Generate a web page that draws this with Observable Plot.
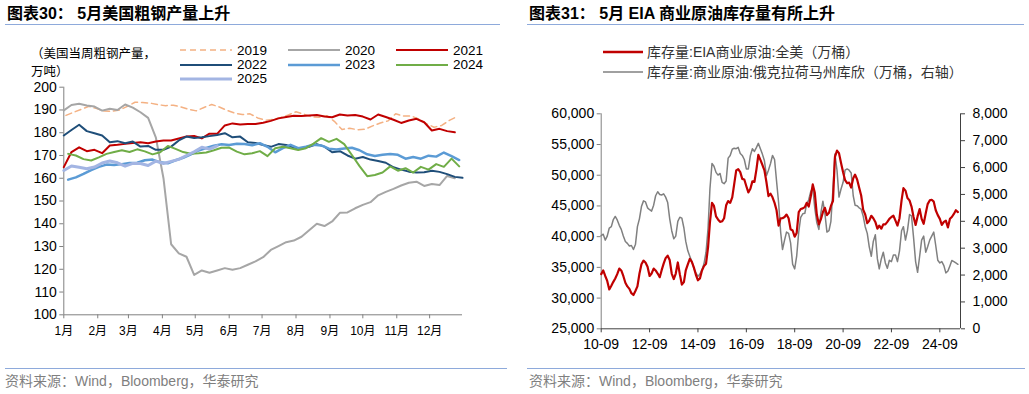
<!DOCTYPE html>
<html><head><meta charset="utf-8">
<script src="https://cdn.jsdelivr.net/npm/d3@7"></script>
<script src="https://cdn.jsdelivr.net/npm/@observablehq/plot@0.6"></script>
<style>
html,body{margin:0;padding:0;background:#fff}
body{width:1029px;height:394px;position:relative;overflow:hidden;font-family:"Liberation Sans",Arial,"Noto Sans CJK SC",sans-serif;color:#000}
.a{position:absolute;white-space:nowrap}
.title{top:5px;font-size:16px;line-height:18px;font-weight:bold;letter-spacing:0px;font-family:"Liberation Sans",Arial,"Noto Sans CJK SC",sans-serif}
.rule{position:absolute;height:0;border-top:1.5px solid #8EAADB}
.src{top:373px;font-size:14px;line-height:16px;color:#7f7f7f}
.cjk{font-family:"Liberation Sans",Arial,"Noto Sans CJK SC",sans-serif}
.plot{position:absolute}
</style></head><body>
<div class="a title" style="left:7px">图表30： 5月美国粗钢产量上升</div>
<div class="a title" style="left:529px">图表31： 5月 EIA 商业原油库存量有所上升</div>
<div class="rule" style="left:5px;top:24px;width:495px"></div>
<div class="rule" style="left:527px;top:24px;width:497px"></div>
<div class="rule" style="left:5px;top:368px;width:502px"></div>
<div class="rule" style="left:527px;top:368px;width:498px"></div>
<div class="a src" style="left:5px">资料来源：Wind，Bloomberg，华泰研究</div>
<div class="a src" style="left:529px">资料来源：Wind，Bloomberg，华泰研究</div>
<div class="a cjk" style="left:31px;top:47px;font-size:12.5px;line-height:14px">（美国当周粗钢产量，</div>
<div class="a cjk" style="left:31px;top:65px;font-size:12.5px;line-height:14px">万吨）</div>
<div id="leftLegend"></div>
<div id="rightLegend"></div>
<div id="leftPlot" class="plot" style="left:0px;top:80px"></div>
<div id="rightPlot" class="plot" style="left:520px;top:95px"></div>
<script>
// ---------- Left chart data: US weekly crude steel output (万吨) ----------
const years = ["2019","2020","2021","2022","2023","2024","2025"];
const firstDay = [2, 0, 0, 0, 4, 4, 0]; // day-of-year of first weekly reading
const steel2019 = [187.6,189,190.3,191.6,190.6,189.5,189.4,190,191.6,193.4,193.3,193,192.3,191.9,192.1,191.3,190.3,189.6,191.1,192.4,191.3,189.8,188.6,188,188.3,186.5,185.5,185.8,186.7,187.8,189.2,188.2,187,186.8,187.5,185,181.4,182,181.3,181.5,183,184.3,185.2,188.3,187.3,187.4,186,184,182.4,183.2,185.4,187.1];
const steel2020 = [189.8,192.2,192.7,192,191.5,189.7,190.5,190,192.4,191,189,186.5,178,160,131,127,125.5,117.5,119.5,118.5,119.5,120.5,119.8,120.5,122,123.5,125.3,128.5,130.2,131.9,132.6,134.3,137.2,140,139,141,144.8,145,146.8,148.3,149.5,152.5,154,155.3,156.8,158,158.5,156.6,157.5,157,161,160];
const steel2021 = [164.9,171.5,173.6,171.9,172.5,171,174.4,174.7,175.1,175.5,175.8,175.4,176.1,176.6,176.6,177.5,178.3,178.6,177.5,179.6,179.5,183.2,184.1,183.6,183.8,183.8,184.4,185.2,186.3,186.9,187.5,187.4,187.6,187.8,187.1,186.8,188,187.6,187.8,187.1,185.8,188,186.9,185.7,184.3,185.4,186.1,184.6,181,181.7,180.7,180.2];
const steel2022 = [178.8,181.2,183.5,180.7,179.8,178.8,175.8,176.3,175.4,176.1,173.9,174.2,172.5,172.5,173.9,176.6,178.3,177.7,178,178.5,179,179.8,178,178.3,175.8,175.5,174.6,173.8,175,174.6,173.5,173,173.8,175,173.9,171.4,171.9,170,168.6,169.3,168.2,167.6,166.8,164.8,163.8,162.9,162.5,162.6,163.3,162.8,161.8,160.6,160.2];
const steel2023 = [159.4,160.4,161.9,163.6,165,166,165.8,166.2,166.7,166.8,167.9,168.2,167,166.6,167.9,169,170.5,172.2,173.3,174.3,174.9,174.6,175.2,175,174.5,175.4,173.8,171.4,173.2,174.7,173.2,173.8,174.7,174.4,173,172.6,173.1,173.4,172.3,170.5,169.8,170.3,170.7,170.3,168.6,169.3,168.6,169.9,169.5,171.3,169.7,168];
const steel2024 = [170.7,170,168.4,167.8,169.2,170.7,171.5,172.3,171.5,172.7,171.8,170.5,171.4,174.2,172.9,171.5,170.8,171,171.3,172.3,173.4,173.5,171.7,170.5,171,171.9,169.7,173.2,173.8,173.2,172.4,173.2,175.2,177.6,176,177.3,175,170.2,165.3,160.9,161.4,162.5,165.2,163.3,164.4,162.5,165,163.8,166.2,165,168.6,165.2];
const steel2025 = [163.4,165.4,164.8,164.2,164.9,166.7,167.6,166.8,165.3,166.5,166.5,165.6,167.5,166.5,167.4,168.3,170,171.6,173.6,172.8,174.2];
const steelSeries = [steel2019, steel2020, steel2021, steel2022, steel2023, steel2024, steel2025];
const monthStartDays = [0,31,59,90,120,151,181,212,243,273,304,334];
const monthLabels = ["1月","2月","3月","4月","5月","6月","7月","8月","9月","10月","11月","12月"];
const steelTicks = [100,110,120,130,140,150,160,170,180,190,200];

// ---------- Right chart data: EIA crude inventories (万桶), monthly from 2010-09 ----------
const crudeFirstMonth = [2010, 9];
const usCrude = [33900,34500,33600,32800,31400,32000,32600,33200,33900,34800,34500,33600,32500,31900,31500,30800,30500,31200,31900,34000,35500,36100,35800,35100,33600,34000,34800,34500,34000,33400,34500,35600,36500,36900,36200,34000,33100,34000,35800,33900,32200,32600,34500,35500,36400,
35900,35000,33800,32900,33200,34500,35200,35600,38300,42300,45500,45000,43300,42800,42400,42500,43000,45100,45800,45500,46400,48500,50800,51000,50500,49400,49300,48200,47200,47800,49000,48900,51000,53300,52500,51700,50800,48900,46600,47000,46400,45500,44300,41800,
43000,43000,43200,43600,43000,41200,41000,40000,40600,44000,44500,44600,44800,45500,44900,46500,48500,47200,43600,42000,42800,44000,44700,43500,43900,45000,45800,53000,54000,53600,52000,50500,49200,48700,48800,48000,49500,50100,49300,48000,46700,44400,43600,42200,42600,
43400,43000,42400,41300,41800,41300,42000,42000,42400,42900,43200,43400,42600,41800,43000,45900,47900,47500,46300,45900,44900,43200,41900,43300,44500,42900,42100,43800,45300,45900,46000,45700,44300,43500,42900,41900,42400,42600,41500,42900,43200,43700,44300,44000];
const cushing = [3470,3520,3300,3450,3750,3800,4050,4180,4050,3850,3700,3450,3250,3180,3080,3100,2950,3150,3800,4100,4550,4760,4720,4500,4430,4380,4600,4950,5100,5000,4980,5020,4900,4700,4100,3650,3350,3450,4000,4150,4120,3750,3250,2900,2700,
2500,2250,2080,1950,2040,2200,2420,2850,3750,5200,6150,6050,5820,5720,5780,5450,5400,5500,6350,6450,6680,6720,6700,6750,6520,6450,6300,5950,5950,6450,6700,6600,6750,6900,6700,6500,6250,5700,5900,6150,6450,6300,5500,4700,
3600,2950,3300,3600,3550,3200,2400,2230,2700,3600,4150,4280,4300,4650,4800,5100,5250,4500,3950,3700,4300,4750,4300,3600,3650,4000,5200,6500,5900,4900,5200,5450,5900,5950,5900,5800,4950,4600,4580,4500,4450,4200,3800,3550,3050,
2700,3250,3500,2600,2230,2600,2850,2450,2250,2550,2500,2750,2750,2500,2900,3650,3800,3300,3650,4250,4200,3400,2500,2100,2700,3300,3450,2850,3050,3300,3450,3600,3100,2550,2450,2500,2350,2080,2150,2350,2540,2500,2450,2400];
const leftAxisTicks = [25000,30000,35000,40000,45000,50000,55000,60000];
const rightAxisTicks = [0,1000,2000,3000,4000,5000,6000,7000,8000];
const xTickYears = [2010,2012,2014,2016,2018,2020,2022,2024];

// ---------- styles ----------
const yearColors = ["#F4B183","#A6A6A6","#C00000","#1F4E79","#5B9BD5","#70AD47","#A3B5E3"];
const yearWidths = [1.5,2,2,2,2.5,2,3];
const yearDash = ["6,4",null,null,null,null,null,null];
const font = "'Liberation Sans', Arial, 'Noto Sans CJK SC', sans-serif";

// ---------- Left chart ----------
const steelRows = [];
steelSeries.forEach((vals, k) => vals.forEach((v, i) => steelRows.push({year: years[k], day: firstDay[k] + 7 * i, v})));

const leftPlot = Plot.plot({
  width: 510, height: 270,
  marginLeft: 63.3, marginRight: 48, marginTop: 6.7, marginBottom: 35.7,
  style: {background: "transparent", fontFamily: font, color: "#000", overflow: "visible"},
  x: {domain: [0, 364]},
  y: {domain: [100, 200]},
  marks: [
    Plot.axisY({ticks: steelTicks, tickSize: 4, tickPadding: 3, fontSize: 14, label: null, stroke: "#808080", fill: "#000"}),
    Plot.axisX({ticks: monthStartDays, tickFormat: d => monthLabels[monthStartDays.indexOf(d)], tickSize: 4, tickPadding: 8, fontSize: 12, label: null, stroke: "#808080", fill: "#000"}),
    Plot.ruleX([0], {stroke: "#808080"}),
    Plot.ruleY([100], {stroke: "#808080"}),
    ...years.map((y, k) => Plot.line(steelRows.filter(r => r.year === y), {
      x: "day", y: "v", stroke: yearColors[k], strokeWidth: yearWidths[k], strokeDasharray: yearDash[k] || undefined
    }))
  ]
});
document.getElementById("leftPlot").appendChild(leftPlot);

// left legend
const legPos = [[0,0],[0,1],[0,2],[1,0],[1,1],[1,2],[2,0]];
const rowY = [50.2, 64.5, 78.8];
const colX = [180, 288, 396];
const ll = document.getElementById("leftLegend");
years.forEach((y, k) => {
  const [r, c] = legPos[k];
  const sw = document.createElementNS("http://www.w3.org/2000/svg", "svg");
  sw.setAttribute("width", 54); sw.setAttribute("height", 8);
  sw.style.position = "absolute"; sw.style.left = colX[c] + "px"; sw.style.top = (rowY[r] - 4) + "px";
  const ln = document.createElementNS("http://www.w3.org/2000/svg", "line");
  ln.setAttribute("x1", 0); ln.setAttribute("x2", 52); ln.setAttribute("y1", 4); ln.setAttribute("y2", 4);
  ln.setAttribute("stroke", yearColors[k]); ln.setAttribute("stroke-width", yearWidths[k]);
  if (yearDash[k]) ln.setAttribute("stroke-dasharray", yearDash[k]);
  sw.appendChild(ln); ll.appendChild(sw);
  const t = document.createElement("div");
  t.className = "a"; t.textContent = y;
  t.style.left = (colX[c] + 57) + "px"; t.style.top = (rowY[r] - 6.5) + "px";
  t.style.fontSize = "13.5px"; t.style.lineHeight = "13px";
  ll.appendChild(t);
});

// ---------- Right chart ----------
const monthDate = i => new Date(Date.UTC(crudeFirstMonth[0], crudeFirstMonth[1] - 1 + i, 1));
const usRows = usCrude.map((v, i) => ({date: monthDate(i), v}));
const cushingRows = cushing.map((v, i) => ({date: monthDate(i), v}));
const toLeft = v => 25000 + v * 35000 / 8000;
const toRight = v => (v - 25000) * 8000 / 35000;
const t0 = new Date(Date.UTC(2010, 8, 1)), t1 = new Date(Date.UTC(2025, 6, 10));
const fmt = d3.format(",");

const rightPlot = Plot.plot({
  width: 509, height: 270,
  marginLeft: 80.7, marginRight: 69, marginTop: 18.3, marginBottom: 36.7,
  style: {background: "transparent", fontFamily: font, color: "#000", overflow: "visible"},
  x: {type: "utc", domain: [t0, t1]},
  y: {domain: [25000, 60000]},
  marks: [
    Plot.axisY({ticks: leftAxisTicks, tickFormat: fmt, anchor: "left", tickSize: 4, tickPadding: 3, fontSize: 14, label: null, stroke: "#808080", fill: "#000"}),
    Plot.axisY({ticks: rightAxisTicks.map(toLeft), tickFormat: d => fmt(Math.round(toRight(d))), anchor: "right", tickSize: 4, tickPadding: 8, fontSize: 14, label: null, stroke: "#404040", fill: "#000"}),
    Plot.axisX({ticks: xTickYears.map(y => new Date(Date.UTC(y, 8, 1))), tickFormat: d3.utcFormat("%y-%m"), tickSize: 4, tickPadding: 6, fontSize: 14, label: null, stroke: "#404040", fill: "#000"}),
    Plot.ruleX([t0], {stroke: "#808080"}),
    Plot.ruleX([t1], {stroke: "#404040"}),
    Plot.ruleY([25000], {stroke: "#404040"}),
    Plot.line(cushingRows, {x: "date", y: d => toLeft(d.v), stroke: "#808080", strokeWidth: 1.5}),
    Plot.line(usRows, {x: "date", y: "v", stroke: "#C00000", strokeWidth: 2.2})
  ]
});
document.getElementById("rightPlot").appendChild(rightPlot);

// right legend
const rightLegend = [
  {label: "库存量:EIA商业原油:全美（万桶）", color: "#C00000", w: 2.5, y: 51.7},
  {label: "库存量:商业原油:俄克拉荷马州库欣（万桶，右轴）", color: "#808080", w: 1.5, y: 71.7}
];
const rl = document.getElementById("rightLegend");
rightLegend.forEach(item => {
  const sw = document.createElementNS("http://www.w3.org/2000/svg", "svg");
  sw.setAttribute("width", 42); sw.setAttribute("height", 8);
  sw.style.position = "absolute"; sw.style.left = "603px"; sw.style.top = (item.y - 4) + "px";
  const ln = document.createElementNS("http://www.w3.org/2000/svg", "line");
  ln.setAttribute("x1", 0); ln.setAttribute("x2", 40); ln.setAttribute("y1", 4); ln.setAttribute("y2", 4);
  ln.setAttribute("stroke", item.color); ln.setAttribute("stroke-width", item.w);
  sw.appendChild(ln); rl.appendChild(sw);
  const t = document.createElement("div");
  t.className = "a cjk"; t.textContent = item.label;
  t.style.left = "647px"; t.style.top = (item.y - 8) + "px";
  t.style.fontSize = "14px"; t.style.lineHeight = "16px"; t.style.color = "#333";
  rl.appendChild(t);
});
</script>
</body></html>
